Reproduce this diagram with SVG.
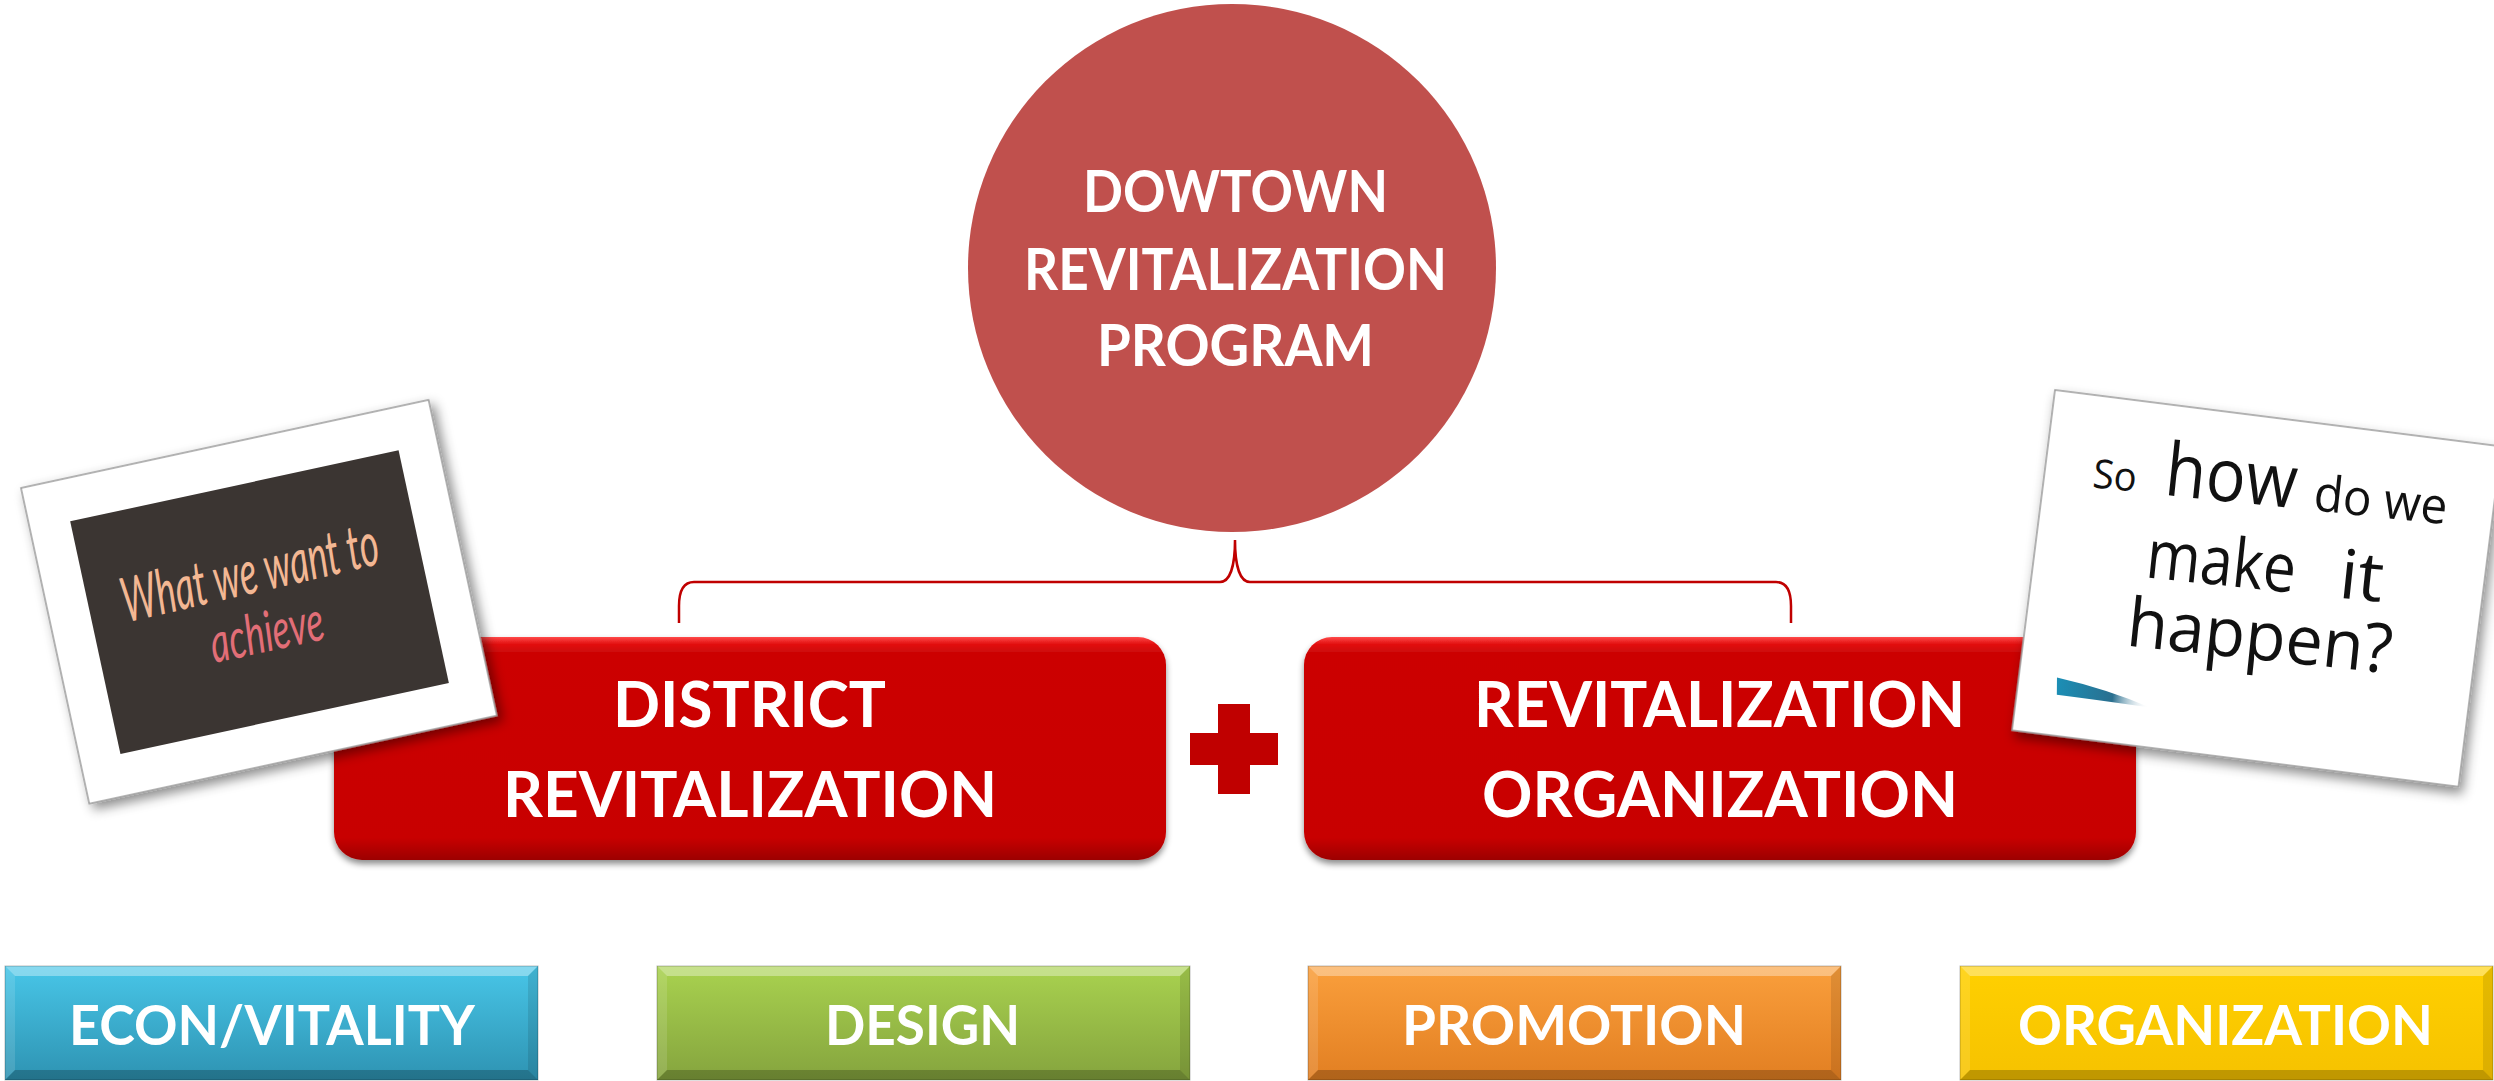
<svg xmlns="http://www.w3.org/2000/svg" width="2494" height="1081" viewBox="0 0 2494 1081">
  <style>
    .lbl { font-family: Lato, "Open Sans", "Liberation Sans", sans-serif; font-weight: 700; fill: #ffffff; }
    .hand { font-family: Lato, "Open Sans", "Liberation Sans", sans-serif; font-style: italic; font-weight: 400; }
    .note { font-family: "Open Sans", "Noto Sans", "Liberation Sans", sans-serif; font-weight: 400; fill: #111111; }
    .bevel-top { fill: #ffffff; opacity: 0.35; }
    .bevel-left { fill: #ffffff; opacity: 0.12; }
    .bevel-right { fill: #000000; opacity: 0.10; }
    .bevel-bottom { fill: #000000; opacity: 0.22; }
    .tile-edge { fill: none; stroke: #000000; stroke-opacity: 0.25; stroke-width: 1; }
    .frame { fill: #ffffff; stroke: #9a9a9a; stroke-width: 1.5; }
    .brace { fill: none; stroke: #C00000; stroke-width: 2.5; }
  </style>
  <defs>
    <linearGradient id="gRed" x1="0" y1="0" x2="0" y2="1">
      <stop offset="0" stop-color="#ff4a4a"/>
      <stop offset="0.03" stop-color="#e41212"/>
      <stop offset="0.07" stop-color="#cc0606"/>
      <stop offset="0.9" stop-color="#c80404"/>
      <stop offset="1" stop-color="#9c0000"/>
    </linearGradient>
    <linearGradient id="gTeal" x1="0" y1="0" x2="0" y2="1">
      <stop offset="0" stop-color="#48c6e8"/>
      <stop offset="1" stop-color="#2e93b2"/>
    </linearGradient>
    <linearGradient id="gGreen" x1="0" y1="0" x2="0" y2="1">
      <stop offset="0" stop-color="#a9d24f"/>
      <stop offset="1" stop-color="#85a43e"/>
    </linearGradient>
    <linearGradient id="gOrange" x1="0" y1="0" x2="0" y2="1">
      <stop offset="0" stop-color="#fa9f3c"/>
      <stop offset="1" stop-color="#e27f22"/>
    </linearGradient>
    <linearGradient id="gGold" x1="0" y1="0" x2="0" y2="1">
      <stop offset="0" stop-color="#ffd000"/>
      <stop offset="1" stop-color="#f6c200"/>
    </linearGradient>
    <linearGradient id="gWedge" x1="0" y1="0" x2="1" y2="0">
      <stop offset="0" stop-color="#1b8fb6"/>
      <stop offset="0.6" stop-color="#2a6f8f"/>
      <stop offset="1" stop-color="#ffffff" stop-opacity="0"/>
    </linearGradient>
    <filter id="shBox" x="-5%" y="-10%" width="110%" height="130%">
      <feDropShadow dx="0" dy="4" stdDeviation="3" flood-color="#000000" flood-opacity="0.45"/>
    </filter>
    <filter id="shPhoto" x="-10%" y="-10%" width="125%" height="130%">
      <feDropShadow dx="4" dy="6" stdDeviation="6" flood-color="#000000" flood-opacity="0.45"/>
    </filter>
  </defs>

  <rect x="0" y="0" width="2494" height="1081" fill="#ffffff"/>

  <!-- brace joining the two pillars to the programme -->
  <g id="connectors">
    <path class="brace" d="M679,623 L679,606 Q679,582 694,582 L1220,582 C1230,582 1235,566 1235,540 C1235,566 1240,582 1250,582 L1776,582 Q1791,582 1791,606 L1791,623"/>
  </g>

  <g id="node-program">
    <circle cx="1232" cy="268" r="264" fill="#C0504D"/>
    <text class="lbl" x="1083" y="212" font-size="58" textLength="305" lengthAdjust="spacingAndGlyphs">DOWTOWN</text>
    <text class="lbl" x="1024" y="290" font-size="58" textLength="423" lengthAdjust="spacingAndGlyphs">REVITALIZATION</text>
    <text class="lbl" x="1097" y="366" font-size="58" textLength="277" lengthAdjust="spacingAndGlyphs">PROGRAM</text>
  </g>

  <g id="node-district">
    <rect x="334" y="637" width="832" height="223" rx="28" fill="url(#gRed)" filter="url(#shBox)"/>
    <text class="lbl" x="613" y="727" font-size="64" textLength="273" lengthAdjust="spacingAndGlyphs">DISTRICT</text>
    <text class="lbl" x="503" y="817" font-size="64" textLength="494" lengthAdjust="spacingAndGlyphs">REVITALIZATION</text>
  </g>

  <g id="node-plus">
    <rect x="1190" y="733" width="88" height="32" fill="#C00000"/>
    <rect x="1218" y="704" width="32" height="90" fill="#C00000"/>
  </g>

  <g id="node-revitalization-organization">
    <rect x="1304" y="637" width="832" height="223" rx="28" fill="url(#gRed)" filter="url(#shBox)"/>
    <text class="lbl" x="1474" y="727" font-size="64" textLength="491" lengthAdjust="spacingAndGlyphs">REVITALIZATION</text>
    <text class="lbl" x="1482" y="817" font-size="64" textLength="476" lengthAdjust="spacingAndGlyphs">ORGANIZATION</text>
  </g>

  <!-- four bevelled tiles along the bottom -->
  <g id="node-econ-vitality">
    <rect x="5" y="966" width="533" height="114" fill="url(#gTeal)"/>
    <polygon class="bevel-top" points="5,966 538,966 528,976 15,976"/>
    <polygon class="bevel-left" points="5,966 15,976 15,1070 5,1080"/>
    <polygon class="bevel-right" points="538,966 538,1080 528,1070 528,976"/>
    <polygon class="bevel-bottom" points="5,1080 15,1070 528,1070 538,1080"/>
    <rect class="tile-edge" x="5" y="966" width="533" height="114"/>
    <text class="lbl" x="69" y="1045" font-size="56" textLength="406" lengthAdjust="spacingAndGlyphs">ECON/VITALITY</text>
  </g>

  <g id="node-design">
    <rect x="657" y="966" width="533" height="114" fill="url(#gGreen)"/>
    <polygon class="bevel-top" points="657,966 1190,966 1180,976 667,976"/>
    <polygon class="bevel-left" points="657,966 667,976 667,1070 657,1080"/>
    <polygon class="bevel-right" points="1190,966 1190,1080 1180,1070 1180,976"/>
    <polygon class="bevel-bottom" points="657,1080 667,1070 1180,1070 1190,1080"/>
    <rect class="tile-edge" x="657" y="966" width="533" height="114"/>
    <text class="lbl" x="825" y="1045" font-size="56" textLength="195" lengthAdjust="spacingAndGlyphs">DESIGN</text>
  </g>

  <g id="node-promotion">
    <rect x="1308" y="966" width="533" height="114" fill="url(#gOrange)"/>
    <polygon class="bevel-top" points="1308,966 1841,966 1831,976 1318,976"/>
    <polygon class="bevel-left" points="1308,966 1318,976 1318,1070 1308,1080"/>
    <polygon class="bevel-right" points="1841,966 1841,1080 1831,1070 1831,976"/>
    <polygon class="bevel-bottom" points="1308,1080 1318,1070 1831,1070 1841,1080"/>
    <rect class="tile-edge" x="1308" y="966" width="533" height="114"/>
    <text class="lbl" x="1402" y="1045" font-size="56" textLength="344" lengthAdjust="spacingAndGlyphs">PROMOTION</text>
  </g>

  <g id="node-organization">
    <rect x="1960" y="966" width="533" height="114" fill="url(#gGold)"/>
    <polygon class="bevel-top" points="1960,966 2493,966 2483,976 1970,976"/>
    <polygon class="bevel-left" points="1960,966 1970,976 1970,1070 1960,1080"/>
    <polygon class="bevel-right" points="2493,966 2493,1080 2483,1070 2483,976"/>
    <polygon class="bevel-bottom" points="1960,1080 1970,1070 2483,1070 2493,1080"/>
    <rect class="tile-edge" x="1960" y="966" width="533" height="114"/>
    <text class="lbl" x="2018" y="1045" font-size="56" textLength="415" lengthAdjust="spacingAndGlyphs">ORGANIZATION</text>
  </g>

  <!-- tilted snapshot on the left -->
  <g id="photo-goal" transform="translate(21,488) rotate(-12.2)">
    <rect class="frame" x="0" y="0" width="417" height="323" filter="url(#shPhoto)"/>
    <rect x="41" y="43" width="336" height="238" fill="#3b3532"/>
    <text class="hand" x="75" y="152" font-size="62" fill="#F3B793" textLength="262" lengthAdjust="spacingAndGlyphs" transform="rotate(-0.8 205 150)">What we want to</text>
    <text class="hand" x="152" y="212" font-size="56" fill="#E26E77" textLength="115" lengthAdjust="spacingAndGlyphs">achieve</text>
  </g>

  <!-- tilted snapshot on the right -->
  <g id="photo-question" transform="translate(2055,390) rotate(7.2)">
    <rect class="frame" x="0" y="0" width="450" height="343" filter="url(#shPhoto)"/>
    <path d="M38,285 Q88,290 134,303 Q80,302 40,302 Z" fill="url(#gWedge)"/>
    <g transform="rotate(-1.2 230 160)">
      <text class="note" x="50" y="88" font-size="40" textLength="44" lengthAdjust="spacingAndGlyphs">So</text>
      <text class="note" x="122" y="88" font-size="74" textLength="132" lengthAdjust="spacingAndGlyphs">how</text>
      <text class="note" x="272" y="88" font-size="50" textLength="134" lengthAdjust="spacingAndGlyphs">do we</text>
      <text class="note" x="112" y="172" font-size="68" textLength="150" lengthAdjust="spacingAndGlyphs">make</text>
      <text class="note" x="306" y="172" font-size="68" textLength="44" lengthAdjust="spacingAndGlyphs">it</text>
      <text class="note" x="100" y="242" font-size="68" textLength="266" lengthAdjust="spacingAndGlyphs">happen?</text>
    </g>
  </g>
</svg>
